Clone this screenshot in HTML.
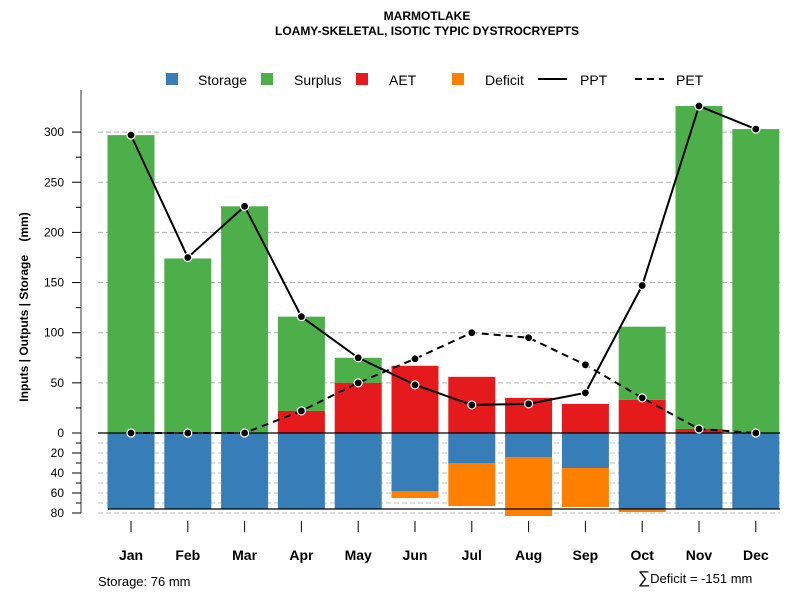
<!DOCTYPE html>
<html><head><meta charset="utf-8"><style>
html,body{margin:0;padding:0;background:#fff;}
svg{display:block;font-family:"Liberation Sans",sans-serif;}
</style></head><body>
<svg id="chart" width="800" height="600" xmlns="http://www.w3.org/2000/svg">
<text x="427" y="20" text-anchor="middle" font-size="12" font-weight="bold">MARMOTLAKE</text>
<text x="427" y="35" text-anchor="middle" font-size="12" font-weight="bold">LOAMY-SKELETAL, ISOTIC TYPIC DYSTROCRYEPTS</text>
<g font-size="14">
<rect x="166" y="73" width="12" height="12" fill="#377eb8"/>
<text x="198" y="85">Storage</text>
<rect x="261" y="73" width="12" height="12" fill="#4daf4a"/>
<text x="294" y="85">Surplus</text>
<rect x="356" y="73" width="12" height="12" fill="#e41a1c"/>
<text x="389" y="85">AET</text>
<rect x="452" y="73" width="12" height="12" fill="#ff7f00"/>
<text x="485" y="85">Deficit</text>
<line x1="538" y1="79" x2="567" y2="79" stroke="#000" stroke-width="2"/>
<text x="580" y="85">PPT</text>
<line x1="635" y1="79" x2="664" y2="79" stroke="#000" stroke-width="2" stroke-dasharray="7,5"/>
<text x="676" y="85">PET</text>
</g>
<text transform="translate(28,307) rotate(-90)" text-anchor="middle" font-size="12" font-weight="bold" xml:space="preserve" style="white-space:pre">Inputs | Outputs | Storage    (mm)</text>
<text x="98" y="586" font-size="13">Storage: 76 mm</text>
<text x="638" y="583" font-size="13"><tspan font-size="17">∑</tspan>Deficit = -151 mm</text>
<g id="grid"></g><g id="bars"></g><g id="axes"></g><g id="lines"></g>
</svg>
<script>
const months = ["Jan","Feb","Mar","Apr","May","Jun","Jul","Aug","Sep","Oct","Nov","Dec"];
const ppt = [297,175,226,116,75,48,28,29,40,147,326,303];
const pet = [0,0,0,22,50,74,100,95,68,35,4,0];
const aet = [0,0,0,22,50,67,56,35,29,33,4,0];
const surplus = [297,174,226,94,25,0,0,0,0,73,322,303];
const storage = [76,76,76,76,76,58,30,24,35,76,76,76];
const deficit = [0,0,0,0,0,7,43,59,39,3,0,0];
const upperTicks = [0,50,100,150,200,250,300];
const lowerTicks = [20,40,60,80];
const capacity = 76;

const NS="http://www.w3.org/2000/svg";
const y0=433, k=1.003;
const yU=v=>y0-v*k;
const yD=v=>y0+v;
const xC=i=>131+i*56.8;
const bw=47;
function mk(tag,attrs,parent){const e=document.createElementNS(NS,tag);for(const a in attrs)e.setAttribute(a,attrs[a]);document.getElementById(parent).appendChild(e);return e;}

upperTicks.forEach(t=>{ if(t===0) return;
  const g=mk('line',{x1:98,x2:780,y1:yU(t),y2:yU(t),stroke:'#b0b0b0','stroke-dasharray':'5,3'},'grid');
  
  
});
for(let t=10;t<=80;t+=10){
  const g=mk('line',{x1:98,x2:780,y1:yD(t),y2:yD(t),stroke:'#c0c0c0','stroke-dasharray':'5,3'},'grid');
  
  
}
months.forEach((m,i)=>{
  const x=xC(i)-bw/2;
  let r=mk('rect',{x:x,y:yU(aet[i]+surplus[i]),width:bw,height:surplus[i]*k,fill:'#4daf4a'},'bars');
  
  
  r=mk('rect',{x:x,y:yU(aet[i]),width:bw,height:aet[i]*k,fill:'#e41a1c'},'bars');
  
  
  r=mk('rect',{x:x,y:yD(0),width:bw,height:storage[i],fill:'#377eb8'},'bars');
  
  
  r=mk('rect',{x:x,y:yD(storage[i]),width:bw,height:deficit[i],fill:'#ff7f00'},'bars');
  
  
  const tk=mk('line',{x1:xC(i),x2:xC(i),y1:521,y2:532,stroke:'#000'},'axes');
  
  
  const lb=mk('text',{x:xC(i),y:560,'text-anchor':'middle','font-size':14,'font-weight':'bold'},'axes');
  lb.textContent=m;
  
  
});
let zl=mk('line',{x1:98,x2:780,y1:y0,y2:y0,stroke:'#000','stroke-width':1.2},'axes');


zl=mk('line',{x1:108,x2:780,y1:yD(capacity),y2:yD(capacity),stroke:'#000','stroke-width':1.2},'axes');


let ax=mk('line',{x1:81,x2:81,y1:90,y2:yD(80),stroke:'#777','stroke-width':1.5},'axes');


for(let t=0;t<=300;t+=25){
  const tk=mk('line',{x1:t%50===0?72:76,x2:81,y1:yU(t),y2:yU(t),stroke:'#000'},'axes');
  
  
}
upperTicks.forEach(t=>{
  const lb=mk('text',{x:64,y:yU(t)+4,'text-anchor':'end','font-size':12},'axes');
  lb.textContent=t;
  
  
});
for(let t=10;t<=80;t+=10){
  const tk=mk('line',{x1:t%20===0?72:76,x2:81,y1:yD(t),y2:yD(t),stroke:'#000'},'axes');
  
  
}
lowerTicks.forEach(t=>{
  const lb=mk('text',{x:64,y:yD(t)+4,'text-anchor':'end','font-size':12},'axes');
  lb.textContent=t;
  
  
});
function series(vals,dash,name){
  const p=mk('polyline',{points:vals.map((v,i)=>xC(i)+','+yU(v)).join(' '),fill:'none',stroke:'#000','stroke-width':2,'stroke-dasharray':dash},'lines');
  
  
  vals.forEach((v,i)=>{
    const c=mk('circle',{cx:xC(i),cy:yU(v),r:4,fill:'#000',stroke:'#fff','stroke-width':1.2},'lines');
    
    
  });
}
series(pet,'7,5','pet');
series(ppt,'none','ppt');
</script>
</body></html>
